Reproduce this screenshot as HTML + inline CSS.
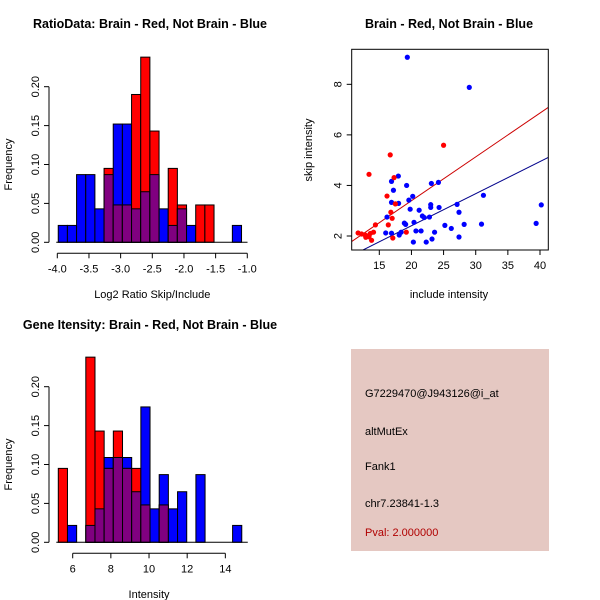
<!DOCTYPE html>
<html><head><meta charset="utf-8"><style>
body{margin:0;background:#fff}
svg{display:block;font-family:"Liberation Sans",sans-serif}
</style></head><body>
<svg id="c" width="600" height="600" xmlns="http://www.w3.org/2000/svg">
<rect width="600" height="600" fill="#fff"/>
<text x="150" y="28" font-size="12.5" font-weight="bold" text-anchor="middle">RatioData: Brain - Red, Not Brain - Blue</text>
<text x="449" y="28" font-size="12.5" font-weight="bold" text-anchor="middle">Brain - Red, Not Brain - Blue</text>
<text x="150" y="329" font-size="12.5" font-weight="bold" text-anchor="middle">Gene Itensity: Brain - Red, Not Brain - Blue</text>
<g id="h1"></g>
<g id="h2"></g>
<g id="sc"></g>
<g>
<rect x="351" y="349" width="198" height="202" fill="#e5c8c2"/>
<text x="365" y="397" font-size="11">G7229470@J943126@i_at</text>
<text x="365" y="435" font-size="11">altMutEx</text>
<text x="365" y="470" font-size="11">Fank1</text>
<text x="365" y="507" font-size="11">chr7.23841-1.3</text>
<text x="365" y="536" font-size="11" fill="#b00000">Pval: 2.000000</text>
</g>
</svg>
<script>
const ratioStart = -3.985, ratioWidth = 0.1447;
const ratioBlue = [0.0217,0.0217,0.087,0.087,0.043,0.087,0.152,0.152,0.043,0.065,0.087,0.043,0.0217,0.043,0.0217,0,0,0,0,0.0217];
const ratioRed  = [0,0,0,0,0,0.095,0.048,0.048,0.19,0.238,0.143,0,0.095,0.048,0,0.048,0.048,0,0,0];
const ratioXTicks = [-4.0,-3.5,-3.0,-2.5,-2.0,-1.5,-1.0];
const intStart = 5.245, intWidth = 0.4808;
const intBlue = [0,0.0217,0,0.0217,0.043,0.109,0.109,0.109,0.065,0.174,0.043,0.087,0.043,0.065,0,0.087,0,0,0,0.0217];
const intRed  = [0.095,0,0,0.238,0.143,0.095,0.143,0.095,0.095,0.048,0,0.048,0,0,0,0,0,0,0,0];
const intXTicks = [6,8,10,12,14];
const yTicks = [0.00,0.05,0.10,0.15,0.20];
const blueX = [19.36,29.0,17.96,16.9,17.2,19.25,23.1,24.2,20.2,19.6,16.9,18.0,23.0,23.0,24.3,27.1,27.4,31.2,40.2,19.8,21.2,21.7,22.0,22.8,16.2,18.9,19.1,20.4,25.2,26.2,28.2,30.9,39.4,16.0,16.9,18.4,18.1,20.7,21.5,23.6,20.3,22.3,23.2,27.4];
const blueY = [9.07,7.88,4.37,4.16,3.81,4.0,4.08,4.12,3.57,3.42,3.33,3.29,3.24,3.13,3.13,3.25,2.94,3.61,3.23,3.06,3.02,2.79,2.73,2.75,2.75,2.51,2.46,2.54,2.42,2.30,2.46,2.47,2.50,2.12,2.11,2.15,2.04,2.20,2.20,2.15,1.76,1.76,1.88,1.96];
const redX = [25.0,16.7,13.4,17.3,16.2,17.5,16.8,17.0,16.4,14.4,19.2,17.1,11.7,12.25,12.8,13.2,13.6,14.1,12.9,13.8,13.4];
const redY = [5.59,5.21,4.44,4.31,3.58,3.27,2.94,2.70,2.44,2.44,2.15,1.92,2.12,2.08,2.04,2.0,2.1,2.15,1.95,1.83,1.97];
const fitSlope = [0.1735,0.127];
const fitIntercept = [-0.076,-0.136];
const scXTicks = [15,20,25,30,35,40];
const scYTicks = [2,4,6,8];

const NS="http://www.w3.org/2000/svg";
function mk(parent,tag,attrs){const e=document.createElementNS(NS,tag);for(const k in attrs)e.setAttribute(k,attrs[k]);parent.appendChild(e);return e;}

function hist(g,start,width,blue,red,xTicks,x0px,pxPerUnit,y0px,tickDec,xlabel,ylabelY,labelY){
  const sx=v=>x0px+(v-start)*pxPerUnit;
  const sy=v=>y0px-v*(155.6/0.2);
  for(let i=0;i<blue.length;i++){
    const a=start+i*width,b=a+width;
    const bl=blue[i],rd=red[i],mn=Math.min(bl,rd);
    if(bl>0){const r=mk(g,'rect',{x:sx(a),y:sy(bl),width:sx(b)-sx(a),height:sy(0)-sy(bl),fill:'#0000ff',stroke:'#000','stroke-width':1});
      
      }
    if(rd>0){const r=mk(g,'rect',{x:sx(a),y:sy(rd),width:sx(b)-sx(a),height:sy(0)-sy(rd),fill:'#ff0000',stroke:'#000','stroke-width':1});
      
      }
    if(mn>0){const r=mk(g,'rect',{x:sx(a),y:sy(mn),width:sx(b)-sx(a),height:sy(0)-sy(mn),fill:'#800080',stroke:'#000','stroke-width':1});
      
      }
  }
  mk(g,'line',{x1:sx(start)-2,x2:sx(start+blue.length*width)+6,y1:sy(0),y2:sy(0),stroke:'#000'});
  const ax=49;
  mk(g,'line',{x1:ax,x2:ax,y1:sy(0),y2:sy(0.2),stroke:'#000'});
  yTicks.forEach(t=>{mk(g,'line',{x1:ax-5,x2:ax,y1:sy(t),y2:sy(t),stroke:'#000'});
    const tx=mk(g,'text',{x:ax-10,y:sy(t),'font-size':11,'text-anchor':'middle',transform:`rotate(-90 ${ax-10} ${sy(t)})`});
    tx.textContent=t.toFixed(2);
    
    });
  const yl=mk(g,'text',{x:12,y:sy(0.1),'font-size':11,'text-anchor':'middle',transform:`rotate(-90 12 ${sy(0.1)})`});
  yl.textContent='Frequency';
  
  
  const xa=y0px+11;
  const fx=v=>sx(v);
  mk(g,'line',{x1:fx(xTicks[0]),x2:fx(xTicks[xTicks.length-1]),y1:xa,y2:xa,stroke:'#000'});
  xTicks.forEach(t=>{mk(g,'line',{x1:fx(t),x2:fx(t),y1:xa,y2:xa+5,stroke:'#000'});
    const tx=mk(g,'text',{x:fx(t),y:xa+19,'font-size':11,'text-anchor':'middle'});
    tx.textContent=t.toFixed(tickDec);
    
    });
  const xl=mk(g,'text',{x:(fx(xTicks[0])+fx(xTicks[xTicks.length-1]))/2,y:labelY,'font-size':11,'text-anchor':'middle'});
  xl.textContent=xlabel;
  
  
}
hist(document.getElementById('h1'),ratioStart,ratioWidth,ratioBlue,ratioRed,ratioXTicks,57.3+(ratioStart+4)*63.33,63.33,242.3,1,'Log2 Ratio Skip/Include',0,298);
hist(document.getElementById('h2'),intStart,intWidth,intBlue,intRed,intXTicks,72.7+(intStart-6)*19.08,19.08,542.3,0,'Intensity',0,598);

(function(){
  const g=document.getElementById('sc');
  const L=351.7,R=548.3,T=49.3,B=250;
  const sx=v=>379.3+(v-15)*6.428;
  const sy=v=>236-(v-2)*25.28;
  const clip=mk(g,'clipPath',{id:'scclip'});mk(clip,'rect',{x:L,y:T,width:R-L,height:B-T});
  const cols=['#cc0000','#00008b'];
  for(let k=0;k<2;k++){
    const x1=10,x2=45;
    const ln=mk(g,'line',{x1:sx(x1),x2:sx(x2),y1:sy(fitIntercept[k]+fitSlope[k]*x1),y2:sy(fitIntercept[k]+fitSlope[k]*x2),stroke:cols[k],'stroke-width':1,'clip-path':'url(#scclip)'});
    
    
  }
  blueX.forEach((x,i)=>{const c=mk(g,'circle',{cx:sx(x),cy:sy(blueY[i]),r:2.6,fill:'#0000ff'});
    
    });
  redX.forEach((x,i)=>{const c=mk(g,'circle',{cx:sx(x),cy:sy(redY[i]),r:2.6,fill:'#ff0000'});
    
    });
  mk(g,'rect',{x:L,y:T,width:R-L,height:B-T,fill:'none',stroke:'#000'});
  scXTicks.forEach(t=>{mk(g,'line',{x1:sx(t),x2:sx(t),y1:B,y2:B+5,stroke:'#000'});
    const tx=mk(g,'text',{x:sx(t),y:B+19,'font-size':11,'text-anchor':'middle'});
    tx.textContent=t;
    
    });
  scYTicks.forEach(t=>{mk(g,'line',{x1:L-5,x2:L,y1:sy(t),y2:sy(t),stroke:'#000'});
    const tx=mk(g,'text',{x:L-10,y:sy(t),'font-size':11,'text-anchor':'middle',transform:`rotate(-90 ${L-10} ${sy(t)})`});
    tx.textContent=t;
    
    });
  const xl=mk(g,'text',{x:449,y:298,'font-size':11,'text-anchor':'middle'});
  xl.textContent='include intensity';
  
  
  const yl=mk(g,'text',{x:312,y:150,'font-size':11,'text-anchor':'middle',transform:'rotate(-90 312 150)'});
  yl.textContent='skip intensity';
  
  
})();
</script>
</body></html>
